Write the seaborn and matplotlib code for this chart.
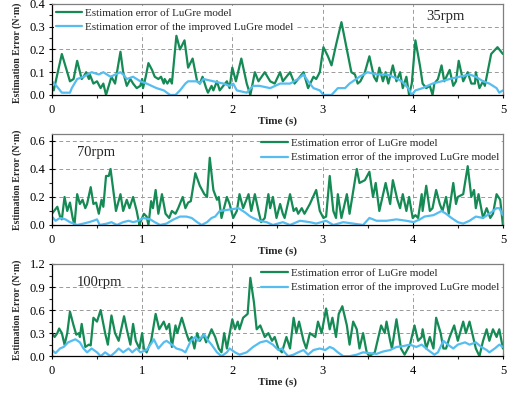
import numpy as np
import pandas as pd
import matplotlib
matplotlib.use("Agg")
import matplotlib.pyplot as plt
import seaborn as sns
from matplotlib.ticker import MultipleLocator

# ---------------- data ----------------
t_g35 = [0.00,0.02,0.11,0.20,0.24,0.28,0.33,0.35,0.38,0.41,0.42,0.46,0.50,0.54,0.57,0.60,0.63,0.66,0.70,0.76,
         0.79,0.83,0.87,0.90,0.94,0.98,1.00,1.01,1.04,1.07,1.11,1.14,1.18,1.21,1.24,1.25,1.28,1.31,1.33,1.38,
         1.42,1.47,1.51,1.56,1.61,1.64,1.67,1.71,1.73,1.77,1.79,1.83,1.86,1.90,1.94,1.97,2.00,2.04,2.10,2.16,
         2.20,2.25,2.29,2.36,2.42,2.47,2.53,2.56,2.64,2.69,2.79,2.84,2.90,2.93,2.97,3.01,3.06,3.10,3.15,3.21,
         3.27,3.32,3.36,3.39,3.42,3.47,3.52,3.57,3.60,3.63,3.67,3.70,3.73,3.78,3.82,3.86,3.89,3.93,3.96,3.99,
         4.03,4.08,4.11,4.15,4.19,4.22,4.24,4.28,4.32,4.35,4.41,4.45,4.48,4.51,4.56,4.61,4.65,4.69,4.70,4.74,
         4.78,4.80,4.82,4.87,4.94,5.00]
e_g35 = [0.04,0.02,0.18,0.06,0.07,0.15,0.07,0.08,0.10,0.07,0.09,0.05,0.06,0.03,0.05,0.00,0.04,0.08,0.05,0.19,
         0.10,0.04,0.07,0.05,0.03,0.04,0.07,0.03,0.08,0.14,0.11,0.08,0.07,0.08,0.05,0.07,0.05,0.07,0.05,0.26,
         0.20,0.24,0.12,0.16,0.06,0.05,0.08,0.03,0.01,0.04,0.02,0.06,0.02,0.04,0.06,0.03,0.12,0.06,0.16,0.05,
         0.00,0.10,0.06,0.10,0.06,0.05,0.10,0.06,0.10,0.05,0.10,0.03,0.08,0.07,0.10,0.21,0.17,0.13,0.22,0.32,
         0.20,0.10,0.09,0.05,0.06,0.10,0.17,0.08,0.06,0.12,0.06,0.10,0.05,0.13,0.06,0.10,0.03,0.08,0.00,0.05,
         0.24,0.13,0.05,0.03,0.04,0.00,0.05,0.07,0.13,0.06,0.11,0.04,0.06,0.15,0.06,0.10,0.05,0.05,0.10,0.03,
         0.06,0.04,0.08,0.18,0.21,0.18]
t_b35 = [0.00,0.05,0.11,0.20,0.22,0.28,0.35,0.44,0.52,0.57,0.65,0.76,0.79,0.83,0.90,0.98,1.05,1.16,1.24,1.31,
         1.37,1.42,1.48,1.51,1.61,1.64,1.68,1.79,1.90,1.97,2.01,2.05,2.16,2.23,2.30,2.42,2.53,2.64,2.73,2.79,
         2.84,2.90,2.97,3.01,3.10,3.17,3.25,3.30,3.41,3.50,3.60,3.71,3.78,3.88,3.95,3.99,4.03,4.11,4.22,4.32,
         4.41,4.52,4.63,4.70,4.78,4.85,4.93,4.96,5.00]
e_b35 = [0.06,0.04,0.01,0.01,0.03,0.07,0.08,0.10,0.09,0.10,0.08,0.10,0.09,0.07,0.08,0.06,0.05,0.03,0.02,0.00,
         0.00,0.02,0.05,0.06,0.06,0.05,0.07,0.06,0.05,0.04,0.05,0.02,0.01,0.04,0.04,0.03,0.05,0.05,0.07,0.09,
         0.06,0.03,0.02,0.00,0.00,0.03,0.03,0.05,0.08,0.10,0.09,0.09,0.08,0.06,0.03,0.00,0.02,0.03,0.05,0.06,
         0.07,0.08,0.09,0.08,0.06,0.05,0.03,0.01,0.02]

t_g70 = [0.00,0.06,0.09,0.11,0.14,0.17,0.20,0.23,0.25,0.28,0.31,0.34,0.37,0.39,0.43,0.46,0.49,0.52,0.55,0.57,
         0.60,0.63,0.65,0.68,0.71,0.76,0.79,0.83,0.86,0.90,0.94,0.97,0.98,1.02,1.05,1.07,1.10,1.12,1.15,1.18,
         1.22,1.26,1.30,1.33,1.37,1.40,1.45,1.48,1.51,1.54,1.59,1.64,1.69,1.72,1.75,1.79,1.83,1.85,1.88,1.94,
         1.97,2.01,2.05,2.08,2.12,2.18,2.21,2.25,2.29,2.32,2.36,2.40,2.42,2.45,2.49,2.53,2.56,2.58,2.64,2.68,
         2.71,2.73,2.77,2.80,2.86,2.93,2.97,3.01,3.04,3.08,3.12,3.15,3.17,3.21,3.27,3.30,3.38,3.41,3.47,3.52,
         3.56,3.59,3.63,3.70,3.75,3.78,3.83,3.86,3.89,3.93,3.96,4.00,4.03,4.06,4.10,4.11,4.15,4.19,4.22,4.26,
         4.30,4.33,4.37,4.40,4.45,4.48,4.50,4.56,4.61,4.65,4.68,4.70,4.73,4.78,4.82,4.86,4.89,4.93,4.97,5.00]
e_g70 = [0.08,0.13,0.06,0.04,0.20,0.10,0.16,0.05,0.00,0.22,0.15,0.18,0.12,0.15,0.27,0.15,0.16,0.08,0.18,0.13,
         0.35,0.35,0.40,0.25,0.10,0.22,0.10,0.18,0.12,0.20,0.10,0.00,0.02,0.08,0.06,0.00,0.17,0.12,0.25,0.08,
         0.22,0.08,0.05,0.10,0.08,0.12,0.20,0.12,0.16,0.17,0.37,0.28,0.22,0.20,0.48,0.25,0.18,0.20,0.05,0.20,
         0.15,0.05,0.10,0.22,0.12,0.22,0.10,0.22,0.10,0.02,0.05,0.22,0.12,0.20,0.05,0.15,0.08,0.05,0.22,0.10,
         0.12,0.08,0.12,0.08,0.15,0.25,0.10,0.05,0.06,0.35,0.10,0.05,0.22,0.05,0.22,0.08,0.40,0.30,0.32,0.38,
         0.20,0.30,0.10,0.30,0.15,0.32,0.18,0.12,0.22,0.10,0.20,0.05,0.07,0.05,0.22,0.10,0.28,0.10,0.12,0.25,
         0.15,0.10,0.20,0.08,0.30,0.15,0.20,0.22,0.42,0.20,0.25,0.12,0.22,0.05,0.12,0.05,0.08,0.22,0.18,0.00]
t_b70 = [0.00,0.04,0.09,0.15,0.20,0.28,0.35,0.41,0.46,0.50,0.53,0.61,0.66,0.72,0.79,0.85,0.90,0.96,1.01,1.09,
         1.14,1.20,1.27,1.35,1.42,1.49,1.55,1.61,1.66,1.72,1.77,1.81,1.86,1.97,2.07,2.14,2.20,2.23,2.30,2.38,
         2.45,2.56,2.64,2.75,2.86,2.93,3.04,3.12,3.23,3.34,3.45,3.52,3.60,3.71,3.82,3.93,4.01,4.08,4.13,4.23,
         4.32,4.37,4.43,4.50,4.56,4.63,4.70,4.78,4.85,4.93,4.96,5.00]
e_b70 = [0.06,0.03,0.05,0.04,0.02,0.00,0.01,0.02,0.03,0.04,0.00,0.01,0.02,0.00,0.02,0.03,0.02,0.03,0.05,0.04,
         0.02,0.00,0.01,0.04,0.06,0.06,0.05,0.02,0.00,0.02,0.05,0.06,0.10,0.11,0.12,0.09,0.06,0.05,0.03,0.02,
         0.00,0.02,0.00,0.03,0.02,0.01,0.03,0.00,0.02,0.01,0.00,0.05,0.03,0.03,0.04,0.03,0.02,0.04,0.06,0.07,
         0.10,0.08,0.05,0.02,0.01,0.03,0.06,0.05,0.08,0.12,0.12,0.07]

t_g100 = [0.00,0.03,0.06,0.08,0.11,0.14,0.17,0.20,0.24,0.27,0.30,0.31,0.33,0.37,0.41,0.43,0.46,0.50,0.54,0.59,
          0.62,0.66,0.70,0.74,0.80,0.83,0.87,0.90,0.93,0.97,1.00,1.02,1.05,1.10,1.15,1.19,1.24,1.27,1.30,1.33,
          1.37,1.39,1.44,1.49,1.52,1.55,1.58,1.61,1.64,1.68,1.71,1.77,1.81,1.85,1.88,1.91,1.94,2.00,2.03,2.06,
          2.08,2.12,2.17,2.20,2.24,2.27,2.31,2.36,2.40,2.44,2.47,2.51,2.55,2.60,2.64,2.68,2.71,2.74,2.79,2.82,
          2.86,2.92,2.95,2.99,3.04,3.08,3.11,3.15,3.18,3.22,3.27,3.30,3.34,3.38,3.41,3.45,3.49,3.52,3.58,3.62,
          3.65,3.69,3.71,3.75,3.77,3.82,3.87,3.91,3.97,4.02,4.06,4.10,4.11,4.15,4.19,4.23,4.26,4.31,4.34,4.37,
          4.41,4.46,4.50,4.56,4.59,4.63,4.67,4.70,4.74,4.78,4.82,4.85,4.89,4.93,4.96,5.00]
e_g100 = [0.30,0.25,0.30,0.36,0.30,0.15,0.30,0.58,0.40,0.28,0.30,0.25,0.42,0.12,0.15,0.14,0.50,0.45,0.60,0.30,
          0.15,0.53,0.30,0.20,0.52,0.35,0.15,0.42,0.20,0.10,0.30,0.10,0.05,0.20,0.55,0.35,0.45,0.35,0.42,0.12,
          0.40,0.30,0.50,0.30,0.20,0.25,0.10,0.30,0.20,0.28,0.18,0.35,0.25,0.10,0.05,0.30,0.10,0.48,0.35,0.45,
          0.35,0.50,0.55,1.02,0.70,0.35,0.40,0.25,0.30,0.20,0.25,0.10,0.05,0.25,0.10,0.50,0.30,0.45,0.20,0.10,
          0.30,0.25,0.45,0.30,0.62,0.35,0.50,0.25,0.55,0.65,0.40,0.15,0.45,0.35,0.10,0.30,0.05,0.00,0.05,0.25,
          0.40,0.30,0.45,0.20,0.10,0.48,0.10,0.02,0.15,0.40,0.20,0.25,0.35,0.10,0.25,0.10,0.50,0.30,0.10,0.10,
          0.25,0.40,0.20,0.45,0.30,0.45,0.25,0.10,0.00,0.20,0.35,0.20,0.35,0.25,0.35,0.10]
t_b100 = [0.00,0.04,0.09,0.13,0.18,0.26,0.31,0.35,0.39,0.44,0.50,0.54,0.59,0.65,0.70,0.74,0.79,0.85,0.89,0.94,
          0.98,1.05,1.11,1.13,1.18,1.24,1.27,1.33,1.38,1.44,1.48,1.50,1.54,1.59,1.62,1.66,1.69,1.72,1.77,1.83,
          1.88,1.94,1.97,2.03,2.08,2.16,2.23,2.31,2.38,2.45,2.51,2.55,2.58,2.62,2.68,2.73,2.79,2.84,2.90,2.97,
          3.03,3.08,3.12,3.17,3.23,3.30,3.38,3.45,3.52,3.60,3.67,3.75,3.82,3.89,3.97,4.04,4.10,4.17,4.24,4.28,
          4.34,4.39,4.45,4.50,4.58,4.63,4.70,4.76,4.82,4.85,4.91,4.96,5.00]
e_b100 = [0.08,0.04,0.10,0.12,0.18,0.22,0.18,0.10,0.05,0.10,0.05,0.00,0.05,0.00,0.05,0.10,0.05,0.10,0.05,0.10,
          0.05,0.08,0.18,0.22,0.10,0.18,0.20,0.15,0.10,0.08,0.05,0.10,0.20,0.25,0.20,0.25,0.28,0.22,0.15,0.05,
          0.00,0.05,0.10,0.05,0.02,0.05,0.12,0.18,0.20,0.15,0.08,0.10,0.05,0.00,0.02,0.05,0.08,0.02,0.08,0.10,
          0.08,0.12,0.10,0.05,0.00,0.00,0.02,0.05,0.04,0.03,0.06,0.08,0.12,0.13,0.15,0.12,0.15,0.08,0.02,0.05,
          0.20,0.15,0.10,0.15,0.18,0.15,0.18,0.12,0.08,0.05,0.10,0.15,0.12]

speed_labels = ["35rpm", "70rpm", "100rpm"]
legend_labels = ["Estimation error of LuGre model", "Estimation error of the improved LuGre model"]
y_limits = [0.4, 0.65, 1.2]
y_major = [0.1, 0.2, 0.3]
x_ticks = [0, 1, 2, 3, 4, 5]

# ---------------- style ----------------
sns.set_style("ticks")
plt.rcParams["font.family"] = ["Liberation Serif", "DejaVu Serif"]

GREEN = "#158a55"
BLUE = "#55bdf0"

fig = plt.figure(figsize=(5.09, 3.94), dpi=100)
boxes = [(0.759, 0.990), (0.429, 0.660), (0.096, 0.330)]
left, right = 0.102, 0.988

series = [(t_g35, e_g35, t_b35, e_b35), (t_g70, e_g70, t_b70, e_b70), (t_g100, e_g100, t_b100, e_b100)]

for i, ((b, t), (tg, eg, tb, eb)) in enumerate(zip(boxes, series)):
    ax = fig.add_axes([left, b, right - left, t - b])
    dg = pd.DataFrame({"t": tg, "e": eg})
    db = pd.DataFrame({"t": tb, "e": eb})
    sns.lineplot(data=dg, x="t", y="e", ax=ax, color=GREEN, linewidth=1.6,
                 estimator=None, sort=False, label=legend_labels[0], zorder=3)
    sns.lineplot(data=db, x="t", y="e", ax=ax, color=BLUE, linewidth=1.6,
                 estimator=None, sort=False, label=legend_labels[1], zorder=3)
    ax.set_xlim(0, 5)
    ax.set_ylim(0, y_limits[i])
    ax.set_xticks(x_ticks)
    ax.xaxis.set_minor_locator(MultipleLocator(0.5))
    ax.yaxis.set_major_locator(MultipleLocator(y_major[i]))
    ax.yaxis.set_minor_locator(MultipleLocator(y_major[i] / 2))
    ax.yaxis.set_major_formatter(matplotlib.ticker.FormatStrFormatter("%.1f"))
    ax.tick_params(axis="both", which="major", direction="inout", length=5, width=0.8,
                   labelsize=9, colors="black")
    ax.tick_params(axis="x", which="major", pad=4)
    ax.tick_params(axis="y", which="major", pad=2)
    ax.tick_params(axis="both", which="minor", direction="out", length=2.5, width=0.8)
    ax.grid(True, which="major", linestyle=(0, (4, 3)), color="#9a9a9a", linewidth=0.7)
    for s in ["top", "right"]:
        ax.spines[s].set_color("#7f7f7f")
    for s in ["left", "bottom"]:
        ax.spines[s].set_color("black")
    for s in ax.spines.values():
        s.set_linewidth(0.9)
        s.set_zorder(6)
    ax.set_ylabel("Estimation Error (N·m)", fontsize=7.1, fontweight="bold")
    ax.yaxis.set_label_coords(-0.066, 0.46 if i == 0 else 0.5)
    ax.set_xlabel("Time (s)", fontsize=8, fontweight="bold", labelpad=0)
    if i == 0:
        loc, anchor = "upper left", (0.0, 1.0)
        ax.text(0.83, 0.86, speed_labels[i], transform=ax.transAxes, fontsize=10.5, va="center")
    else:
        loc, anchor = "upper right", (1.0, 1.0)
        ax.text(0.055, 0.80, speed_labels[i], transform=ax.transAxes, fontsize=10.5, va="center")
    leg = ax.legend(loc=loc, bbox_to_anchor=anchor, fontsize=8, frameon=True, fancybox=False,
                    handlelength=2.4, handletextpad=0.25, labelspacing=0.45, borderpad=0.15,
                    borderaxespad=0.2)
    leg.get_frame().set_edgecolor("none")
    leg.get_frame().set_facecolor("white")
    leg.get_frame().set_alpha(1)
    leg.set_zorder(5)

fig.savefig("out.png", dpi=100)
